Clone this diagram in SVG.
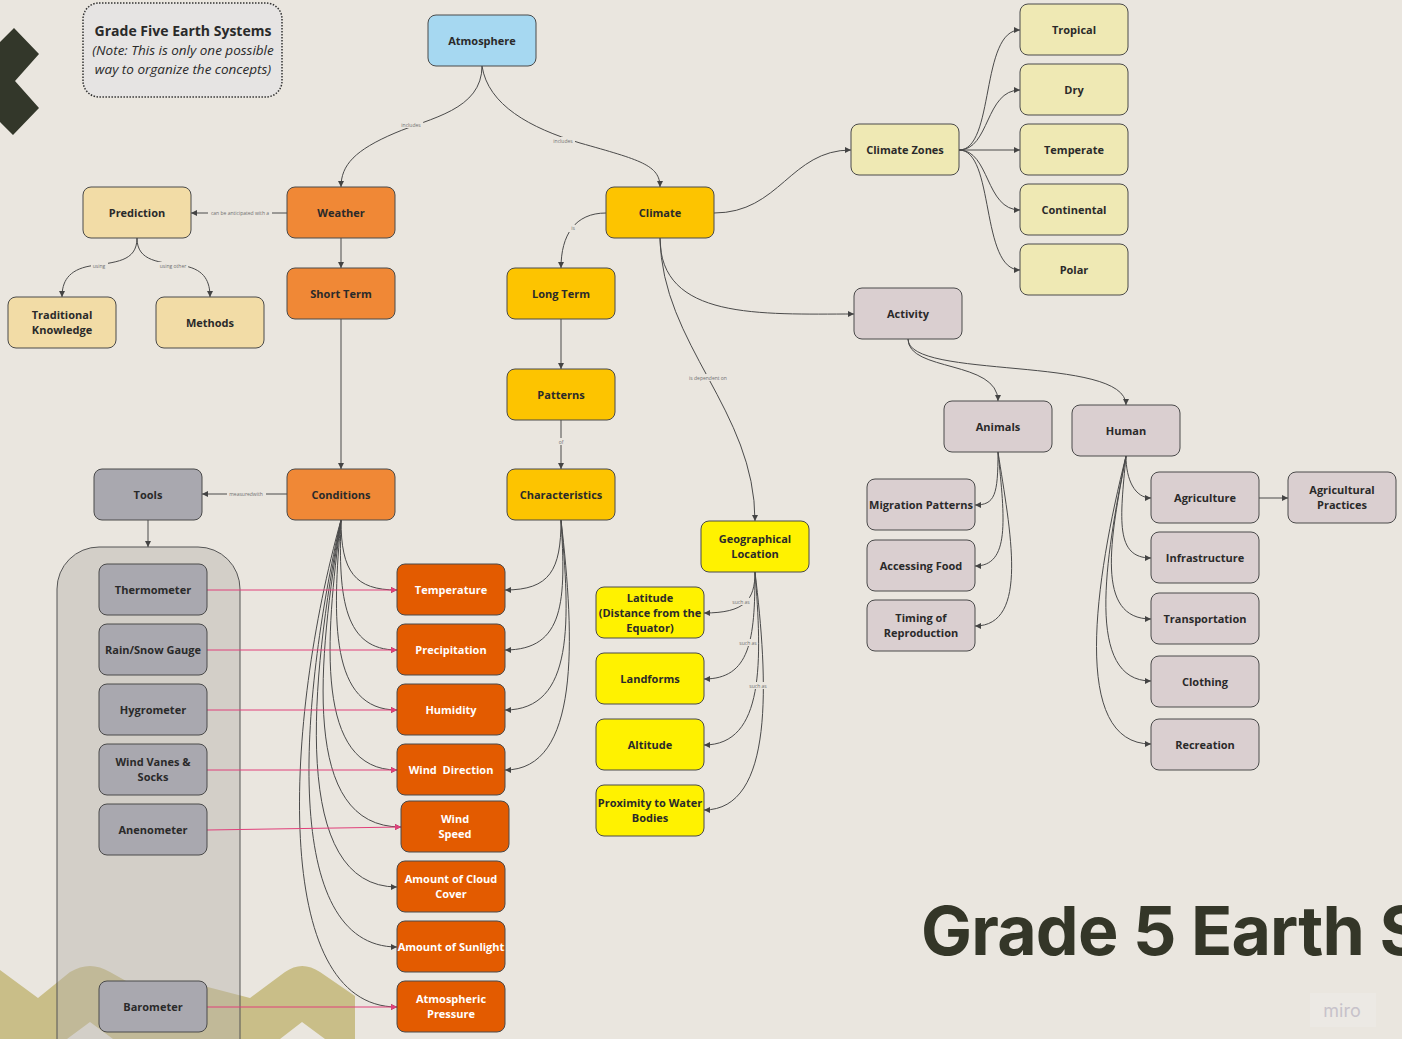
<svg xmlns="http://www.w3.org/2000/svg" width="1402" height="1039" viewBox="0 0 1402 1039">
  <style>
    .n rect { stroke: #4a4a4a; stroke-width: 1; }
    .n text { font-family: "Open Sans", "Noto Sans", sans-serif; font-weight: 700; font-size: 11px; text-anchor: middle; fill: #2a2a2a; }
    .n.w text { fill: #ffffff; }
    .blue rect { fill: #a6d8f1; }
    .org rect { fill: #f08836; }
    .gold rect { fill: #fdc400; }
    .tan rect { fill: #f2dca6; }
    .gray rect { fill: #a9a8af; }
    .red rect { fill: #e35b00; }
    .yel rect { fill: #fff200; }
    .cream rect { fill: #efe9b4; }
    .mauve rect { fill: #dacfd0; }
    .c path { fill: none; stroke: #4a4a4a; stroke-width: 1; marker-end: url(#ah); }
    .c path.pk { stroke: #e0407a; marker-end: url(#ahp); }
    .lbl rect { fill: #eae6df; }
    .lbl text { font-family: "Open Sans", "Noto Sans", sans-serif; font-size: 5px; fill: #707070; text-anchor: middle; }
  </style>
  <defs>
    <marker id="ah" viewBox="0 0 6 6" refX="6" refY="3" markerWidth="6" markerHeight="6" markerUnits="userSpaceOnUse" orient="auto">
      <path d="M0,0 L6,3 L0,6 z" fill="#444"/>
    </marker>
    <marker id="ahp" viewBox="0 0 6 6" refX="6" refY="3" markerWidth="6" markerHeight="6" markerUnits="userSpaceOnUse" orient="auto">
      <path d="M0,0 L6,3 L0,6 z" fill="#e0407a"/>
    </marker>
  </defs>

  <!-- board background -->
  <rect x="0" y="0" width="1402" height="1039" fill="#eae6df"/>

  <!-- dark zigzag at the left edge -->
  <polygon points="0,42 14,28 39,54 15,81 39,108 13,135 0,122" fill="#33372a"/>

  <!-- olive chevron band, bottom left -->
  <path d="M0,970 L38,998 L70,972 Q90,960 110,972 L160,1000 L200,985 L250,998 L285,972 Q302,960 320,972 L355,996 L355,1039 L325,1039 L302,1022 L280,1039 L113,1039 L90,1022 L67,1039 L0,1039 Z" fill="#c9be88"/>

  <!-- note card -->
  <g id="note">
    <rect x="83" y="3" width="199" height="94" rx="16" fill="#e6e4e3" stroke="#333" stroke-width="1.5" stroke-dasharray="1.5 1.5"/>
    <text x="183" y="36" font-family="'Open Sans', 'Noto Sans', sans-serif" font-weight="700" font-size="14" fill="#2a2a2a" text-anchor="middle">Grade Five Earth Systems</text>
    <text x="183" y="55" font-family="'Open Sans', 'Noto Sans', sans-serif" font-style="italic" font-size="13.5" fill="#2a2a2a" text-anchor="middle">(Note: This is only one possible</text>
    <text x="183" y="74" font-family="'Open Sans', 'Noto Sans', sans-serif" font-style="italic" font-size="13.5" fill="#2a2a2a" text-anchor="middle">way to organize the concepts)</text>
  </g>

  <!-- instruments frame -->
  <g id="tool-frame">
    <rect x="57" y="547" width="183" height="540" rx="42" fill="#b8b4ae" fill-opacity="0.45" stroke="#555" stroke-width="1"/>
  </g>

  <!-- connectors -->
  <g id="connectors" class="c">
    <path d="M482,66 C482,110 430,118 395,133 C355,150 341,165 341,187"/>
    <path d="M482,66 C488,105 530,128 580,143 C640,160 660,165 660,187"/>
    <path d="M287,213 L191,213"/>
    <path d="M137,238 C137,262 115,262 90,266 C68,270 62,282 62,297"/>
    <path d="M137,238 C137,262 160,262 185,266 C205,270 210,282 210,297"/>
    <path d="M341,238 L341,268"/>
    <path d="M341,319 L341,469"/>
    <path d="M287,494 L202,494"/>
    <path d="M148,520 L148,547"/>
    <path d="M606,213 C575,213 561,235 561,268"/>
    <path d="M561,319 L561,369"/>
    <path d="M561,420 L561,469"/>
    <path d="M714,213 C780,213 790,150 851,150"/>
    <path d="M959,150 C995,150 980,30 1020,30"/>
    <path d="M959,150 C990,150 985,90 1020,90"/>
    <path d="M959,150 L1020,150"/>
    <path d="M959,150 C990,150 985,210 1020,210"/>
    <path d="M959,150 C995,150 980,270 1020,270"/>
    <path d="M660,238 C660,320 760,314 854,314"/>
    <path d="M660,238 C662,345 755,410 755,521"/>
    <path d="M908,339 C908,372 998,360 998,401"/>
    <path d="M908,339 C908,380 1126,355 1126,405"/>
    <path d="M998,452 C998,495 995,505 975,505"/>
    <path d="M998,452 C1005,520 1010,566 975,566"/>
    <path d="M998,452 C1010,530 1030,626 975,626"/>
    <path d="M1126,456 C1126,480 1135,498 1151,498"/>
    <path d="M1126,456 C1120,520 1115,558 1151,558"/>
    <path d="M1126,456 C1110,540 1095,619 1151,619"/>
    <path d="M1126,456 C1105,560 1085,681 1151,681"/>
    <path d="M1126,456 C1095,580 1070,744 1151,744"/>
    <path d="M1259,498 L1288,498"/>
    <path d="M755,572 C755,600 745,613 704,613"/>
    <path d="M755,572 C755,640 750,679 704,679"/>
    <path d="M755,572 C762,660 765,745 704,745"/>
    <path d="M755,572 C768,680 775,810 704,810"/>
    <path d="M561,520 C561,570 550,590 505,590"/>
    <path d="M561,520 C566,600 565,650 505,650"/>
    <path d="M561,520 C570,620 575,710 505,710"/>
    <path d="M561,520 C575,640 580,770 505,770"/>
    <path d="M341,520 C341,572 355,590 397,590"/>
    <path d="M341,520 C338,600 345,650 397,650"/>
    <path d="M341,520 C332,620 330,710 397,710"/>
    <path d="M341,520 C325,640 315,770 397,770"/>
    <path d="M341,520 C318,660 300,827 401,827"/>
    <path d="M341,520 C310,680 290,887 397,887"/>
    <path d="M341,520 C300,700 280,947 397,947"/>
    <path d="M341,520 C285,720 270,1007 397,1007"/>
    <path class="pk" d="M207,590 L397,590"/>
    <path class="pk" d="M207,650 L397,650"/>
    <path class="pk" d="M207,710 L397,710"/>
    <path class="pk" d="M207,770 L397,770"/>
    <path class="pk" d="M207,830 L401,827"/>
    <path class="pk" d="M207,1007 L397,1007"/>
  </g>

  <!-- connector labels -->
  <g id="connector-labels" class="lbl">
    <rect x="399" y="121" width="24" height="7"/><text x="411" y="127">includes</text>
    <rect x="551" y="137" width="24" height="7"/><text x="563" y="143">includes</text>
    <rect x="208" y="210" width="64" height="7"/><text x="240" y="215">can be anticipated with a</text>
    <rect x="91" y="262" width="17" height="7"/><text x="99" y="268">using</text>
    <rect x="158" y="262" width="30" height="7"/><text x="173" y="268">using other</text>
    <rect x="569" y="225" width="8" height="7"/><text x="573" y="230">is</text>
    <rect x="686" y="374" width="44" height="7"/><text x="708" y="380">is dependent on</text>
    <rect x="556" y="438" width="10" height="7"/><text x="561" y="444">of</text>
    <rect x="227" y="490" width="39" height="7"/><text x="246" y="496">measuredwith</text>
    <rect x="731" y="598" width="20" height="7"/><text x="741" y="604">such as</text>
    <rect x="738" y="639" width="20" height="7"/><text x="748" y="645">such as</text>
    <rect x="748" y="682" width="20" height="7"/><text x="758" y="688">such as</text>
  </g>

  <!-- nodes -->
  <g id="atmosphere" class="n blue"><rect x="428" y="15" width="108" height="51" rx="8"/><text x="482" y="45">Atmosphere</text></g>
  <g id="weather" class="n org"><rect x="287" y="187" width="108" height="51" rx="8"/><text x="341" y="217">Weather</text></g>
  <g id="short-term" class="n org"><rect x="287" y="268" width="108" height="51" rx="8"/><text x="341" y="298">Short Term</text></g>
  <g id="conditions" class="n org"><rect x="287" y="469" width="108" height="51" rx="8"/><text x="341" y="499">Conditions</text></g>
  <g id="climate" class="n gold"><rect x="606" y="187" width="108" height="51" rx="8"/><text x="660" y="217">Climate</text></g>
  <g id="long-term" class="n gold"><rect x="507" y="268" width="108" height="51" rx="8"/><text x="561" y="298">Long Term</text></g>
  <g id="patterns" class="n gold"><rect x="507" y="369" width="108" height="51" rx="8"/><text x="561" y="399">Patterns</text></g>
  <g id="characteristics" class="n gold"><rect x="507" y="469" width="108" height="51" rx="8"/><text x="561" y="499">Characteristics</text></g>
  <g id="prediction" class="n tan"><rect x="83" y="187" width="108" height="51" rx="8"/><text x="137" y="217">Prediction</text></g>
  <g id="traditional-knowledge" class="n tan"><rect x="8" y="297" width="108" height="51" rx="8"/><text x="62" y="319">Traditional</text><text x="62" y="334">Knowledge</text></g>
  <g id="methods" class="n tan"><rect x="156" y="297" width="108" height="51" rx="8"/><text x="210" y="327">Methods</text></g>
  <g id="tools" class="n gray"><rect x="94" y="469" width="108" height="51" rx="8"/><text x="148" y="499">Tools</text></g>
  <g id="thermometer" class="n gray"><rect x="99" y="564" width="108" height="51" rx="8"/><text x="153" y="594">Thermometer</text></g>
  <g id="rain-snow-gauge" class="n gray"><rect x="99" y="624" width="108" height="51" rx="8"/><text x="153" y="654">Rain/Snow Gauge</text></g>
  <g id="hygrometer" class="n gray"><rect x="99" y="684" width="108" height="51" rx="8"/><text x="153" y="714">Hygrometer</text></g>
  <g id="wind-vanes" class="n gray"><rect x="99" y="744" width="108" height="51" rx="8"/><text x="153" y="766">Wind Vanes &amp;</text><text x="153" y="781">Socks</text></g>
  <g id="anenometer" class="n gray"><rect x="99" y="804" width="108" height="51" rx="8"/><text x="153" y="834">Anenometer</text></g>
  <g id="barometer" class="n gray"><rect x="99" y="981" width="108" height="51" rx="8"/><text x="153" y="1011">Barometer</text></g>
  <g id="temperature" class="n w red"><rect x="397" y="564" width="108" height="51" rx="8"/><text x="451" y="594">Temperature</text></g>
  <g id="precipitation" class="n w red"><rect x="397" y="624" width="108" height="51" rx="8"/><text x="451" y="654">Precipitation</text></g>
  <g id="humidity" class="n w red"><rect x="397" y="684" width="108" height="51" rx="8"/><text x="451" y="714">Humidity</text></g>
  <g id="wind-direction" class="n w red"><rect x="397" y="744" width="108" height="51" rx="8"/><text x="451" y="774" xml:space="preserve">Wind  Direction</text></g>
  <g id="wind-speed" class="n w red"><rect x="401" y="801" width="108" height="51" rx="8"/><text x="455" y="823">Wind</text><text x="455" y="838">Speed</text></g>
  <g id="cloud-cover" class="n w red"><rect x="397" y="861" width="108" height="51" rx="8"/><text x="451" y="883">Amount of Cloud</text><text x="451" y="898">Cover</text></g>
  <g id="sunlight" class="n w red"><rect x="397" y="921" width="108" height="51" rx="8"/><text x="451" y="951">Amount of Sunlight</text></g>
  <g id="pressure" class="n w red"><rect x="397" y="981" width="108" height="51" rx="8"/><text x="451" y="1003">Atmospheric</text><text x="451" y="1018">Pressure</text></g>
  <g id="geographical-location" class="n yel"><rect x="701" y="521" width="108" height="51" rx="8"/><text x="755" y="543">Geographical</text><text x="755" y="558">Location</text></g>
  <g id="latitude" class="n yel"><rect x="596" y="587" width="108" height="51" rx="8"/><text x="650" y="602">Latitude</text><text x="650" y="617">(Distance from the</text><text x="650" y="632">Equator)</text></g>
  <g id="landforms" class="n yel"><rect x="596" y="653" width="108" height="51" rx="8"/><text x="650" y="683">Landforms</text></g>
  <g id="altitude" class="n yel"><rect x="596" y="719" width="108" height="51" rx="8"/><text x="650" y="749">Altitude</text></g>
  <g id="water-bodies" class="n yel"><rect x="596" y="785" width="108" height="51" rx="8"/><text x="650" y="807">Proximity to Water</text><text x="650" y="822">Bodies</text></g>
  <g id="climate-zones" class="n cream"><rect x="851" y="124" width="108" height="51" rx="8"/><text x="905" y="154">Climate Zones</text></g>
  <g id="tropical" class="n cream"><rect x="1020" y="4" width="108" height="51" rx="8"/><text x="1074" y="34">Tropical</text></g>
  <g id="dry" class="n cream"><rect x="1020" y="64" width="108" height="51" rx="8"/><text x="1074" y="94">Dry</text></g>
  <g id="temperate" class="n cream"><rect x="1020" y="124" width="108" height="51" rx="8"/><text x="1074" y="154">Temperate</text></g>
  <g id="continental" class="n cream"><rect x="1020" y="184" width="108" height="51" rx="8"/><text x="1074" y="214">Continental</text></g>
  <g id="polar" class="n cream"><rect x="1020" y="244" width="108" height="51" rx="8"/><text x="1074" y="274">Polar</text></g>
  <g id="activity" class="n mauve"><rect x="854" y="288" width="108" height="51" rx="8"/><text x="908" y="318">Activity</text></g>
  <g id="animals" class="n mauve"><rect x="944" y="401" width="108" height="51" rx="8"/><text x="998" y="431">Animals</text></g>
  <g id="human" class="n mauve"><rect x="1072" y="405" width="108" height="51" rx="8"/><text x="1126" y="435">Human</text></g>
  <g id="migration" class="n mauve"><rect x="867" y="479" width="108" height="51" rx="8"/><text x="921" y="509">Migration Patterns</text></g>
  <g id="accessing-food" class="n mauve"><rect x="867" y="540" width="108" height="51" rx="8"/><text x="921" y="570">Accessing Food</text></g>
  <g id="reproduction" class="n mauve"><rect x="867" y="600" width="108" height="51" rx="8"/><text x="921" y="622">Timing of</text><text x="921" y="637">Reproduction</text></g>
  <g id="agriculture" class="n mauve"><rect x="1151" y="472" width="108" height="51" rx="8"/><text x="1205" y="502">Agriculture</text></g>
  <g id="agricultural-practices" class="n mauve"><rect x="1288" y="472" width="108" height="51" rx="8"/><text x="1342" y="494">Agricultural</text><text x="1342" y="509">Practices</text></g>
  <g id="infrastructure" class="n mauve"><rect x="1151" y="532" width="108" height="51" rx="8"/><text x="1205" y="562">Infrastructure</text></g>
  <g id="transportation" class="n mauve"><rect x="1151" y="593" width="108" height="51" rx="8"/><text x="1205" y="623">Transportation</text></g>
  <g id="clothing" class="n mauve"><rect x="1151" y="656" width="108" height="51" rx="8"/><text x="1205" y="686">Clothing</text></g>
  <g id="recreation" class="n mauve"><rect x="1151" y="719" width="108" height="51" rx="8"/><text x="1205" y="749">Recreation</text></g>

  <!-- board title, running past the right edge of the board view -->
  <text x="921" y="955" font-family="Inter, 'Liberation Sans', sans-serif" font-weight="700" font-size="68" letter-spacing="-0.8" fill="#343628">Grade 5 Earth Systems</text>

  <!-- watermark -->
  <g id="watermark">
    <rect x="1310" y="993" width="66" height="34" fill="#ece9e4"/>
    <text x="1342" y="1017" font-family="Inter, 'Liberation Sans', sans-serif" font-size="18" fill="#c7c2ca" text-anchor="middle">miro</text>
  </g>
</svg>
